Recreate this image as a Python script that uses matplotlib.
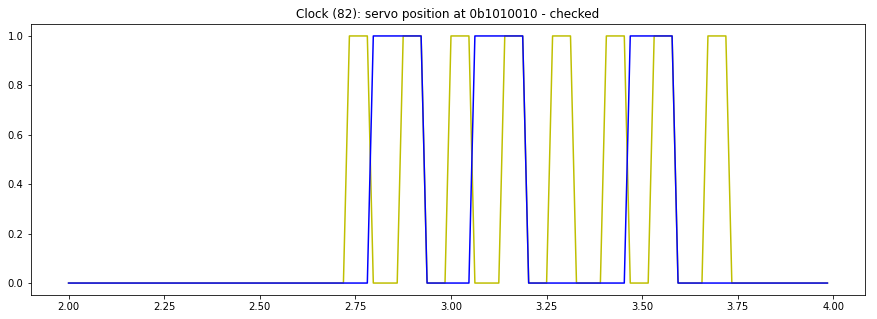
import numpy as np
import matplotlib
matplotlib.use("Agg")
import matplotlib.pyplot as plt

# sample times: 128 samples, step 1/64 s, starting at 2.00
t_start = 2.0
t_step = 1 / 64
n_samples = 128

# clock signal (yellow), one value per sample
clock = [
    0, 0, 0, 0, 0, 0, 0, 0, 0, 0, 0, 0, 0, 0, 0, 0,
    0, 0, 0, 0, 0, 0, 0, 0, 0, 0, 0, 0, 0, 0, 0, 0,
    0, 0, 0, 0, 0, 0, 0, 0, 0, 0, 0, 0, 0, 0, 0, 1,
    1, 1, 1, 0, 0, 0, 0, 0, 1, 1, 1, 1, 0, 0, 0, 0,
    1, 1, 1, 1, 0, 0, 0, 0, 0, 1, 1, 1, 1, 0, 0, 0,
    0, 1, 1, 1, 1, 0, 0, 0, 0, 0, 1, 1, 1, 1, 0, 0,
    0, 0, 1, 1, 1, 1, 0, 0, 0, 0, 0, 1, 1, 1, 1, 0,
    0, 0, 0, 0, 0, 0, 0, 0, 0, 0, 0, 0, 0, 0, 0, 0,
]

# servo data signal (blue), one value per sample
data = [
    0, 0, 0, 0, 0, 0, 0, 0, 0, 0, 0, 0, 0, 0, 0, 0,
    0, 0, 0, 0, 0, 0, 0, 0, 0, 0, 0, 0, 0, 0, 0, 0,
    0, 0, 0, 0, 0, 0, 0, 0, 0, 0, 0, 0, 0, 0, 0, 0,
    0, 0, 0, 1, 1, 1, 1, 1, 1, 1, 1, 1, 0, 0, 0, 0,
    0, 0, 0, 0, 1, 1, 1, 1, 1, 1, 1, 1, 1, 0, 0, 0,
    0, 0, 0, 0, 0, 0, 0, 0, 0, 0, 0, 0, 0, 0, 1, 1,
    1, 1, 1, 1, 1, 1, 0, 0, 0, 0, 0, 0, 0, 0, 0, 0,
    0, 0, 0, 0, 0, 0, 0, 0, 0, 0, 0, 0, 0, 0, 0, 0,
]

title = "Clock (82): servo position at 0b1010010 - checked"

t = t_start + t_step * np.arange(n_samples)

fig = plt.figure(figsize=(877 / 72, 319 / 72), dpi=72)
ax = fig.add_axes([30.6 / 877, 23.6 / 319, 834.8 / 877, 271.8 / 319])
ax.plot(t, clock, color="y", linewidth=1.5)
ax.plot(t, data, color="b", linewidth=1.5)
ax.set_title(title, fontsize=12)
ax.tick_params(labelsize=10)
fig.savefig("out.png", dpi=72)
